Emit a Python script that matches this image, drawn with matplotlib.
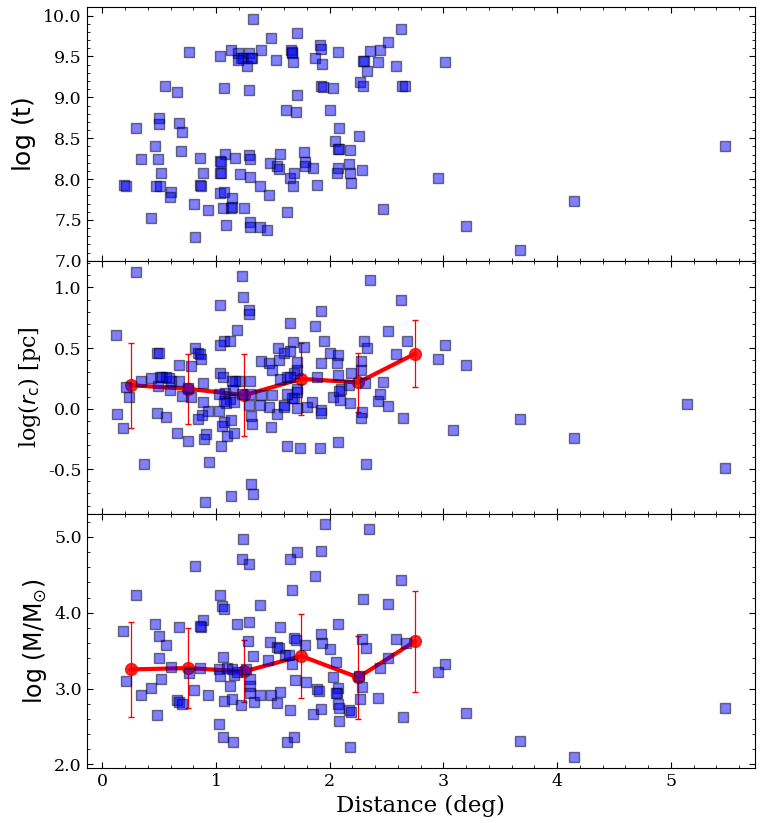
import matplotlib
matplotlib.use("Agg")
import matplotlib.pyplot as plt
from matplotlib.ticker import MultipleLocator, FormatStrFormatter

plt.rcParams['font.family'] = ['DejaVu Serif']
plt.rcParams['mathtext.fontset'] = 'dejavusans'

# ---------------- data ----------------
dist_t = [1.326, 1.484, 1.713, 2.63, 2.516, 2.443, 2.35, 2.29, 2.30, 2.428, 2.33, 2.58, 2.266, 2.296,
          2.64, 2.66, 2.076, 1.918, 1.927, 1.874, 1.935, 1.925, 1.94, 2.03, 2.006, 1.66, 1.67, 1.665,
          1.68, 1.716, 1.619, 1.707, 1.528, 1.399, 1.135, 1.19, 1.22, 1.24, 1.293, 1.32, 1.31, 1.276,
          1.19, 1.038, 0.765, 1.073, 1.293, 0.554, 0.66, 0.501, 0.50, 0.30, 0.677, 0.704, 0.466, 0.34,
          0.493, 0.695, 0.519, 0.188, 0.21, 0.475, 0.51, 0.604, 0.598, 0.431, 0.809, 0.818, 0.862,
          0.889, 0.86, 0.868, 0.933, 1.082, 1.036, 1.044, 1.17, 1.036, 1.044, 1.035, 1.07, 1.144,
          1.065, 1.13, 1.14, 1.246, 1.09, 1.214, 1.302, 1.293, 1.30, 1.30, 1.30, 1.387, 1.452, 1.39,
          1.469, 1.475, 1.563, 1.54, 1.55, 1.625, 1.651, 1.686, 1.68, 1.777, 1.783, 1.786, 1.85, 1.891,
          2.082, 2.05, 2.07, 2.085, 2.18, 2.26, 2.173, 2.076, 2.06, 2.18, 2.19, 2.287, 2.47, 3.017,
          2.955, 3.20, 3.676, 4.151, 5.48]
log_t = [9.96, 9.73, 9.79, 9.84, 9.68, 9.58, 9.57, 9.44, 9.44, 9.43, 9.32, 9.38, 9.19, 9.14,
         9.14, 9.14, 9.55, 9.64, 9.59, 9.48, 9.41, 9.14, 9.13, 9.12, 8.85, 9.58, 9.54, 9.55,
         9.43, 9.03, 8.84, 8.82, 9.46, 9.58, 9.58, 9.54, 9.48, 9.48, 9.54, 9.48, 9.48, 9.38,
         9.46, 9.50, 9.55, 9.12, 9.09, 9.14, 9.07, 8.75, 8.67, 8.62, 8.69, 8.57, 8.40, 8.25,
         8.25, 8.34, 8.08, 7.93, 7.92, 7.92, 7.92, 7.84, 7.78, 7.53, 7.70, 7.29, 8.26,
         8.08, 7.93, 7.92, 7.62, 8.31, 8.22, 8.21, 8.26, 8.07, 8.08, 7.83, 7.84, 7.77,
         7.65, 7.65, 7.66, 7.65, 7.44, 8.06, 8.02, 8.30, 8.24, 7.47, 7.42, 7.41, 7.38, 7.92,
         7.81, 8.20, 8.31, 8.16, 8.12, 7.60, 8.01, 8.07, 7.91, 8.33, 8.21, 8.16, 8.13, 7.93,
         8.62, 8.47, 8.37, 8.37, 8.35, 8.53, 8.19, 8.13, 8.07, 8.07, 7.95, 8.11, 7.63, 9.43,
         8.01, 7.43, 7.13, 7.73, 8.40]

dist_r = [0.299, 0.123, 1.229, 1.24, 1.038, 1.293, 1.293, 1.188, 1.073, 1.12, 1.035, 0.48, 0.496,
          0.818, 0.839, 0.86, 0.868, 0.677, 0.783, 1.654, 1.874, 1.927, 2.35, 2.628, 2.516, 2.677,
          2.587, 2.30, 2.33, 1.953, 1.674, 1.777, 1.548, 1.595, 1.651, 2.0, 2.07, 1.396, 1.466,
          1.554, 1.927, 1.716, 1.71, 1.683, 1.493, 2.062, 2.076, 2.272, 2.276, 2.185, 1.889, 1.563,
          1.62, 1.65, 2.469, 2.31, 2.173, 2.10, 2.446, 2.428, 2.51, 2.648, 2.28, 2.276, 2.179, 2.032,
          2.085, 2.09, 1.845, 1.927, 1.927, 1.80, 1.71, 1.69, 1.67, 1.716, 1.71, 1.595, 1.54, 1.469,
          1.49, 1.40, 1.39, 1.62, 1.595, 1.487, 1.62, 1.74, 1.918, 2.076, 2.32, 1.30, 1.30, 1.205,
          1.17, 1.14, 1.226, 1.293, 1.305, 1.32, 1.153, 1.12, 1.08, 1.073, 1.085, 1.038, 1.06, 1.026,
          1.161, 1.029, 1.07, 1.053, 1.129, 1.094, 1.158, 1.04, 0.889, 0.933, 0.883, 0.88, 0.844,
          0.912, 0.897, 0.941, 0.757, 0.66, 0.557, 0.478, 0.674, 0.698, 0.78, 0.757, 0.592, 0.60,
          0.504, 0.522, 0.557, 0.584, 0.493, 0.428, 0.34, 0.211, 0.235, 0.132, 0.185, 0.37, 1.308,
          1.328, 1.135, 0.903, 3.017, 2.955, 3.20, 3.087, 3.676, 4.151, 5.145, 5.48]
log_rc = [1.126, 0.609, 1.098, 0.921, 0.855, 0.814, 0.779, 0.648, 0.557, 0.56, 0.522, 0.462, 0.459,
          0.497, 0.456, 0.454, 0.407, 0.363, 0.352, 0.705, 0.683, 0.806, 1.06, 0.896, 0.642, 0.557,
          0.451, 0.56, 0.50, 0.56, 0.549, 0.505, 0.497, 0.456, 0.475, 0.462, 0.445, 0.396, 0.377,
          0.399, 0.38, 0.385, 0.322, 0.295, 0.322, 0.377, 0.276, 0.391, 0.322, 0.295, 0.257, 0.243,
          0.257, 0.262, 0.216, 0.213, 0.191, 0.158, 0.117, 0.063, 0.019, -0.079, -0.025, -0.079, 0.044, 0.098,
          0.145, 0.071, 0.052, -0.014, -0.038, 0.014, 0.008, 0.09, 0.085, 0.164, 0.137, 0.03, -0.046, 0.014,
          0.115, 0.109, 0.03, 0.117, 0.014, -0.153, -0.311, -0.325, -0.322, -0.279, -0.456, 0.232, 0.117, 0.232,
          0.224, 0.232, 0.123, 0.033, -0.063, -0.123, 0.156, 0.077, 0.131, 0.063, 0.044, 0.298, 0.26, 0.123,
          0.055, -0.019, -0.109, -0.142, -0.096, -0.227, -0.205, -0.311, 0.208, -0.022, 0.057, -0.055, -0.082,
          -0.213, -0.254, -0.443, -0.27, -0.205, -0.071, -0.033, 0.227, 0.104, 0.096, 0.167, 0.150, 0.224,
          0.26, 0.26, 0.26, 0.254, 0.186, 0.254, 0.232, 0.178, 0.098, -0.041, -0.161, -0.456, -0.62,
          -0.708, -0.721, -0.77, 0.527, 0.41, 0.36, -0.18, -0.082, -0.246, 0.041, -0.492]

dist_m = [1.956, 2.349, 1.238, 1.232, 1.293, 1.713, 1.651, 1.927, 0.815, 1.874, 2.63, 0.299, 1.038,
          1.056, 1.067, 1.668, 2.296, 1.387, 2.516, 0.182, 0.466, 0.499, 0.677, 0.889, 0.868, 0.862,
          1.188, 1.293, 1.566, 2.076, 1.683, 1.70, 1.927, 1.933, 1.78, 2.0, 2.287, 2.318, 2.584, 2.675,
          2.516, 2.446, 1.279, 1.475, 1.54, 1.55, 1.328, 1.455, 1.607, 1.645, 1.062, 0.56, 0.496, 0.60,
          0.519, 0.211, 0.34, 0.431, 0.478, 0.657, 0.674, 0.698, 0.765, 0.859, 0.809, 0.933, 1.029,
          1.038, 1.094, 1.138, 1.158, 1.188, 1.264, 1.126, 1.073, 1.138, 1.217, 1.296, 1.30, 1.30,
          1.334, 1.39, 1.484, 1.54, 1.563, 1.651, 1.029, 1.059, 1.153, 1.62, 1.69, 1.698, 1.789, 1.665,
          1.85, 1.927, 1.891, 1.909, 2.032, 2.07, 2.067, 2.056, 2.053, 2.076, 2.082, 2.085, 2.173,
          2.185, 2.26, 2.284, 2.27, 2.428, 2.179, 2.642, 3.017, 2.955, 3.20, 3.676, 4.151, 5.48]
log_m = [5.168, 5.10, 4.969, 4.704, 4.637, 4.805, 4.704, 4.81, 4.62, 4.49, 4.438, 4.239, 4.239,
         4.084, 4.053, 4.30, 4.18, 4.106, 4.12, 3.757, 3.85, 3.69, 3.814, 3.90, 3.81, 3.83,
         3.858, 3.876, 3.814, 3.854, 3.668, 3.64, 3.717, 3.60, 3.58, 3.522, 3.655, 3.535, 3.655, 3.597,
         3.40, 3.27, 3.628, 3.61, 3.553, 3.535, 3.434, 3.376, 3.447, 3.447, 3.412, 3.57, 3.40, 3.28,
         3.12, 3.093, 2.92, 3.009, 2.655, 2.85, 2.823, 2.79, 3.204, 3.265, 2.987, 2.92, 3.257,
         3.168, 3.265, 3.257, 3.18, 3.22, 3.257, 3.027, 2.836, 2.867, 2.779, 3.124, 3.035, 2.947,
         2.823, 2.92, 2.92, 2.805, 2.95, 2.717, 2.527, 2.354, 2.296, 2.30, 2.354, 3.11, 3.088, 3.323,
         2.659, 2.735, 2.99, 2.965, 3.146, 3.009, 2.947, 2.938, 3.345, 2.792, 2.739, 2.566, 2.717,
         2.69, 3.168, 3.022, 2.863, 2.872, 2.234, 2.62, 3.323, 3.212, 2.672, 2.313, 2.10, 2.738]

bin_dist = [0.25, 0.75, 1.25, 1.75, 2.25, 2.75]
rc_mean = [0.193, 0.164, 0.111, 0.246, 0.216, 0.453]
rc_err = [0.35, 0.29, 0.336, 0.295, 0.242, 0.277]
m_mean = [3.252, 3.27, 3.226, 3.429, 3.146, 3.624]
m_err = [0.624, 0.525, 0.41, 0.555, 0.55, 0.664]

# ---------------- figure ----------------
fig, axes = plt.subplots(3, 1, figsize=(7.62, 8.23), dpi=100, sharex=True)
fig.subplots_adjust(left=0.1138, right=0.9908, top=0.991, bottom=0.0672, hspace=0)

sc_kw = dict(marker='s', s=52, c='blue', alpha=0.5, edgecolors='k', linewidths=1.0, zorder=3)


def binned(ax, x, y, err):
    ax.errorbar(x, y, yerr=err, fmt='none', ecolor='red', elinewidth=0.9, capsize=2.2, zorder=2)
    ax.plot(x, y, '-', color='red', lw=3, zorder=2)
    ax.plot(x, y, 'o', color='red', markersize=8.5, alpha=0.85, zorder=2)


ax1, ax2, ax3 = axes
ax1.scatter(dist_t, log_t, **sc_kw)
binned(ax2, bin_dist, rc_mean, rc_err)
ax2.scatter(dist_r, log_rc, **sc_kw)
binned(ax3, bin_dist, m_mean, m_err)
ax3.scatter(dist_m, log_m, **sc_kw)

ax1.set_ylim(7.0, 10.1)
ax2.set_ylim(-0.872, 1.22)
ax3.set_ylim(1.955, 5.30)
ax3.set_xlim(-0.137, 5.74)

ax1.yaxis.set_major_locator(MultipleLocator(0.5))
ax1.yaxis.set_minor_locator(MultipleLocator(0.1))
ax2.yaxis.set_major_locator(MultipleLocator(0.5))
ax2.yaxis.set_minor_locator(MultipleLocator(0.1))
ax3.yaxis.set_major_locator(MultipleLocator(1.0))
ax3.yaxis.set_minor_locator(MultipleLocator(0.2))
ax3.xaxis.set_major_locator(MultipleLocator(1.0))
ax3.xaxis.set_minor_locator(MultipleLocator(0.2))
for ax in axes:
    ax.yaxis.set_major_formatter(FormatStrFormatter('%.1f'))
    ax.tick_params(which='both', direction='in', top=True, right=True, labelsize=12.5)
    ax.tick_params(which='major', length=4)
    ax.tick_params(which='minor', length=2)
ax3.xaxis.set_major_formatter(FormatStrFormatter('%d'))

ax1.set_ylabel(r'$\rm log\ (t)$', fontsize=18)
ax2.set_ylabel(r'log($r_{\rm c}$) [pc]', fontsize=16)
ax3.set_ylabel(r'$\rm log\ (M/M_{\odot})$', fontsize=17)
ax3.set_xlabel('Distance (deg)', fontsize=16.5)

fig.savefig('out.png', dpi=100)
